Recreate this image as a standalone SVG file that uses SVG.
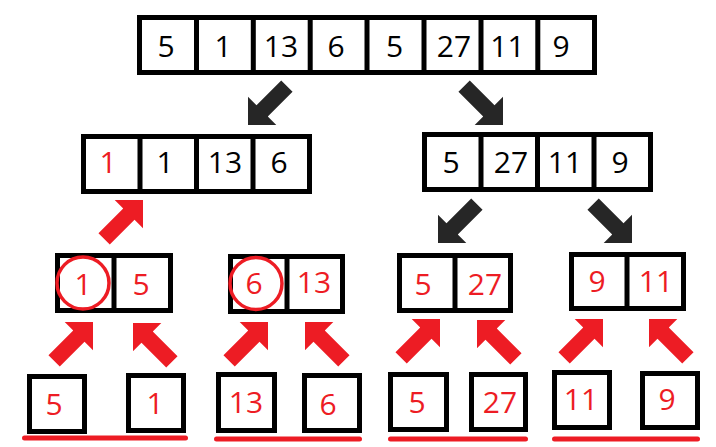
<svg xmlns="http://www.w3.org/2000/svg" xmlns:xlink="http://www.w3.org/1999/xlink" width="716" height="447" viewBox="0 0 716 447">
<style>
.box{fill:#fff;stroke:#000;stroke-width:5}
.div{stroke:#000;stroke-width:5}
.t{font-family:"Open Sans","Noto Sans","Liberation Sans",sans-serif;font-size:30px;text-anchor:middle}
.k{fill:#000}
.r{fill:#ED1C24}
.circ{fill:none;stroke:#ED1C24;stroke-width:3.5}
.ul{stroke:#ED1C24;stroke-width:5;stroke-linecap:round}
.ar{fill:#ED1C24}
.ab{fill:#262626}
</style>
<defs>
<path id="arrow" d="M0,0 L-20,-20 L-20,-8 L-55,-8 L-55,8 L-20,8 L-20,20 Z"/>
</defs>
<rect width="716" height="447" fill="#fff"/>

<g id="root">
<rect class="box" x="139.5" y="17.5" width="455" height="55"/>
<path class="div" d="M196.5,15V75M253.3,15V75M310.2,15V75M367,15V75M424,15V75M481,15V75M537.8,15V75"/>
<text class="t k" x="166" y="57">5</text>
<text class="t k" x="223" y="57">1</text>
<text class="t k" x="281" y="57">13</text>
<text class="t k" x="336" y="57">6</text>
<text class="t k" x="394.5" y="57">5</text>
<text class="t k" x="454" y="57">27</text>
<text class="t k" x="507.5" y="57">11</text>
<text class="t k" x="561" y="57">9</text>
</g>

<g id="left">
<rect class="box" x="83.5" y="136.5" width="226" height="55"/>
<path class="div" d="M140,134V194M196.5,134V194M253,134V194"/>
<text class="t r" x="108" y="173">1</text>
<text class="t k" x="165" y="173">1</text>
<text class="t k" x="225" y="173">13</text>
<text class="t k" x="279" y="173">6</text>
</g>

<g id="right">
<rect class="box" x="424.5" y="134.5" width="226" height="55"/>
<path class="div" d="M481,132V192M537.5,132V192M594,132V192"/>
<text class="t k" x="451" y="173">5</text>
<text class="t k" x="511" y="173">27</text>
<text class="t k" x="565" y="173">11</text>
<text class="t k" x="620" y="173">9</text>
</g>

<g id="pair1">
<rect class="box" x="57.5" y="255.5" width="113" height="55"/>
<path class="div" d="M114,253V313"/>
<circle class="circ" cx="83" cy="283" r="26"/>
<text class="t r" x="83" y="295">1</text>
<text class="t r" x="141" y="295">5</text>
</g>

<g id="pair2">
<rect class="box" x="230.5" y="256.5" width="112" height="55"/>
<path class="div" d="M287,254V314"/>
<circle class="circ" cx="256" cy="283.5" r="26"/>
<text class="t r" x="254" y="294">6</text>
<text class="t r" x="314" y="293">13</text>
</g>

<g id="pair3">
<rect class="box" x="399.5" y="255.5" width="111" height="55"/>
<path class="div" d="M455,253V313"/>
<text class="t r" x="423" y="295">5</text>
<text class="t r" x="485" y="295">27</text>
</g>

<g id="pair4">
<rect class="box" x="571.5" y="254.5" width="112" height="54"/>
<path class="div" d="M627,252V311"/>
<text class="t r" x="597" y="292">9</text>
<text class="t r" x="656" y="292">11</text>
</g>

<g id="leaf5a">
<rect class="box" x="29.5" y="376.5" width="55" height="55"/>
<text class="t r" x="54" y="415">5</text>
</g>
<g id="leaf1">
<rect class="box" x="128.5" y="375.5" width="55" height="55"/>
<text class="t r" x="155" y="414">1</text>
</g>
<g id="leaf13">
<rect class="box" x="218.5" y="374.5" width="56" height="56"/>
<text class="t r" x="246" y="413">13</text>
</g>
<g id="leaf6">
<rect class="box" x="304.5" y="375.5" width="55" height="55"/>
<text class="t r" x="328" y="415">6</text>
</g>
<g id="leaf5b">
<rect class="box" x="390.5" y="374.5" width="56" height="55"/>
<text class="t r" x="417" y="413">5</text>
</g>
<g id="leaf27">
<rect class="box" x="471.5" y="374.5" width="54" height="55"/>
<text class="t r" x="500" y="413">27</text>
</g>
<g id="leaf11">
<rect class="box" x="554.5" y="372.5" width="55" height="55"/>
<text class="t r" x="581" y="410">11</text>
</g>
<g id="leaf9">
<rect class="box" x="642.5" y="373.5" width="55" height="54"/>
<text class="t r" x="667" y="410">9</text>
</g>

<g id="underlines">
<line class="ul" x1="24.5" y1="438" x2="185.5" y2="438"/>
<line class="ul" x1="216.5" y1="439" x2="359.5" y2="439"/>
<line class="ul" x1="390.5" y1="439" x2="525.5" y2="439"/>
<line class="ul" x1="554.5" y1="439" x2="697.5" y2="439"/>
</g>

<g id="connectors">
<use xlink:href="#arrow" href="#arrow" class="ab" transform="translate(248,125) rotate(135)"/>
<use xlink:href="#arrow" href="#arrow" class="ab" transform="translate(503,125) rotate(45)"/>
<use xlink:href="#arrow" href="#arrow" class="ab" transform="translate(438,243) rotate(135)"/>
<use xlink:href="#arrow" href="#arrow" class="ab" transform="translate(632,243) rotate(45)"/>
<use xlink:href="#arrow" href="#arrow" class="ar" transform="translate(143,200) rotate(-45)"/>
<use xlink:href="#arrow" href="#arrow" class="ar" transform="translate(93,322) rotate(-45)"/>
<use xlink:href="#arrow" href="#arrow" class="ar" transform="translate(133,323) rotate(-135)"/>
<use xlink:href="#arrow" href="#arrow" class="ar" transform="translate(268,322) rotate(-45)"/>
<use xlink:href="#arrow" href="#arrow" class="ar" transform="translate(305,322) rotate(-135)"/>
<use xlink:href="#arrow" href="#arrow" class="ar" transform="translate(440,319) rotate(-45)"/>
<use xlink:href="#arrow" href="#arrow" class="ar" transform="translate(477,320) rotate(-135)"/>
<use xlink:href="#arrow" href="#arrow" class="ar" transform="translate(603,319) rotate(-45)"/>
<use xlink:href="#arrow" href="#arrow" class="ar" transform="translate(649,319) rotate(-135)"/>
</g>
</svg>
